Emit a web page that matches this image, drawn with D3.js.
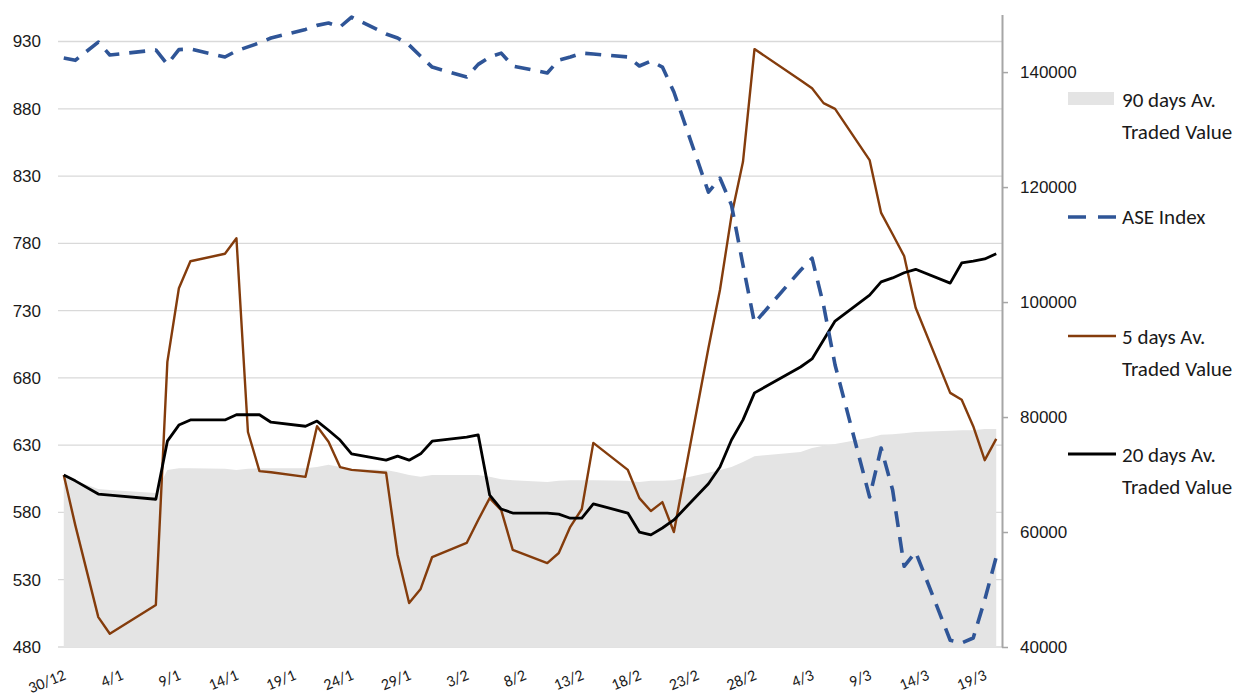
<!DOCTYPE html>
<html>
<head>
<meta charset="utf-8">
<script src="https://cdn.jsdelivr.net/npm/d3@7"></script>
<style>
  body { margin: 0; background: #fff; }
  svg { font-family: Carlito, Lato, "Open Sans", sans-serif; }
</style>
</head>
<body>
<div id="chart-area"></div>
<script>
// trading days, 30/12/2019 - 20/3/2020
var dates = ["2019-12-30","2019-12-31","2020-01-02","2020-01-03","2020-01-07","2020-01-08","2020-01-09","2020-01-10",
  "2020-01-13","2020-01-14","2020-01-15","2020-01-16","2020-01-17","2020-01-20","2020-01-21","2020-01-22","2020-01-23","2020-01-24",
  "2020-01-27","2020-01-28","2020-01-29","2020-01-30","2020-01-31","2020-02-03","2020-02-04","2020-02-05","2020-02-06","2020-02-07",
  "2020-02-10","2020-02-11","2020-02-12","2020-02-13","2020-02-14","2020-02-17","2020-02-18","2020-02-19","2020-02-20","2020-02-21",
  "2020-02-24","2020-02-25","2020-02-26","2020-02-27","2020-02-28","2020-03-03","2020-03-04","2020-03-05","2020-03-06",
  "2020-03-09","2020-03-10","2020-03-11","2020-03-12","2020-03-13","2020-03-16","2020-03-17","2020-03-18","2020-03-19","2020-03-20"];

var aseIndex = [917.7,916,929.6,920,923.7,913,924,924.4,
  918.5,923,926,929,932.6,939,942,943.7,940.8,948.2,
  935.6,932.6,927.4,919,911,903.6,913,918.5,921.4,911.8,
  906.6,916.2,918.5,921.4,920.7,918.5,911.8,915.5,911,892.5,
  818,828.5,808.5,763.9,720.8,760,769,734,689.6,
  591.5,627.9,596.7,540,550.6,485,483,486.7,515,547];

var av5 = [69900,61200,45200,42300,47300,89600,102400,107100,
  108400,111100,77400,70600,70400,69600,78400,75700,71300,70800,
  70300,56000,47650,50100,55650,58100,62100,65900,63800,56900,
  54600,56350,60900,64000,75500,70800,65900,63650,65200,60000,
  92000,102100,115000,124400,144000,138600,137200,134600,133600,
  124700,115500,111800,108000,99000,84200,83000,78400,72500,76200];

var av20 = [69900,68900,66600,66400,65700,75800,78600,79500,
  79500,80400,80400,80400,79100,78400,79300,77700,76000,73600,
  72500,73200,72500,73600,75800,76500,76900,66400,64000,63300,
  63300,63100,62400,62400,64900,63300,60000,59500,60700,62100,
  68400,71300,76000,79500,84200,88700,90100,93400,96700,
  101200,103500,104200,105100,105700,103300,106800,107100,107500,108400];

var av90 = [69600,68900,67500,67300,66800,70800,71100,71100,
  71000,70800,71000,71100,71100,71100,71300,71700,71300,71000,
  70800,70400,69900,69600,69900,69900,69900,69600,69200,69000,
  68700,68900,69000,69000,69000,68900,68700,68900,68900,69000,
  70300,70800,71300,72200,73200,73900,74600,75000,75300,
  76400,76900,77000,77200,77400,77600,77700,77700,77900,77900];

var xTickDates = ["2019-12-30","2020-01-04","2020-01-09","2020-01-14","2020-01-19","2020-01-24","2020-01-29",
  "2020-02-03","2020-02-08","2020-02-13","2020-02-18","2020-02-23","2020-02-28","2020-03-04","2020-03-09","2020-03-14","2020-03-19"];
var leftTicks = [480,530,580,630,680,730,780,830,880,930];
var rightTicks = [40000,60000,80000,100000,120000,140000];

var legendItems = [
  {key: "av90", lines: ["90 days Av.", "Traded Value"]},
  {key: "ase", lines: ["ASE Index"]},
  {key: "av5", lines: ["5 days Av.", "Traded Value"]},
  {key: "av20", lines: ["20 days Av.", "Traded Value"]}
];

var blue = "#2f5597", brown = "#843c0c", grid = "#d9d9d9", areaFill = "#e4e4e4";

var width = 1240, height = 697;
var plot = {left: 58, right: 1002, top: 14.6, bottom: 647};

var parse = d3.utcParse("%Y-%m-%d");
var days = dates.map(parse);

var svg = d3.select("#chart-area").append("svg")
    .attr("width", width)
    .attr("height", height);

var x = d3.scaleUtc()
    .domain([parse("2019-12-30"), parse("2020-03-21")])
    .range([plot.left, plot.right]);
// points sit in the middle of their day slot
function xc(d) { return x(d3.utcHour.offset(d, 12)); }

var yL = d3.scaleLinear().domain([480, 950]).range([plot.bottom, plot.top]);
var yR = d3.scaleLinear().domain([40000, 150000]).range([plot.bottom, plot.top]);

// gridlines
svg.append("g").selectAll("line")
    .data(leftTicks)
    .join("line")
    .attr("x1", plot.left).attr("x2", plot.right)
    .attr("y1", d => yL(d)).attr("y2", d => yL(d))
    .style("stroke", grid)
    .style("stroke-width", 1.3);

// 90 day area
var area = d3.area()
    .x((d, i) => xc(days[i]))
    .y0(yR(40000))
    .y1(d => yR(d));
svg.append("path")
    .datum(av90)
    .attr("d", area)
    .attr("fill", areaFill);

function lineFor(scale) {
  return d3.line().x((d, i) => xc(days[i])).y(d => scale(d));
}

svg.append("path").datum(av5)
    .attr("d", lineFor(yR))
    .attr("fill", "none")
    .style("stroke", brown)
    .style("stroke-width", 2.4)
    .style("stroke-linejoin", "round");

svg.append("path").datum(av20)
    .attr("d", lineFor(yR))
    .attr("fill", "none")
    .style("stroke", "#000")
    .style("stroke-width", 2.8)
    .style("stroke-linejoin", "round");

svg.append("path").datum(aseIndex)
    .attr("d", lineFor(yL))
    .attr("fill", "none")
    .style("stroke", blue)
    .style("stroke-width", 3.6)
    .style("stroke-dasharray", "16 10")
    .style("stroke-linejoin", "round");

// left axis (labels only)
var leftAxis = svg.append("g")
    .attr("transform", "translate(41,0)")
    .call(d3.axisLeft(yL).tickValues(leftTicks).tickSize(0).tickPadding(0));
leftAxis.select(".domain").remove();
leftAxis.selectAll("text")
    .style("font-size", "17px")
    .style("fill", "#1a1a1a");

// right axis
var rightAxis = svg.append("g")
    .attr("transform", "translate(" + plot.right + ",0)")
    .call(d3.axisRight(yR).tickValues(rightTicks).tickFormat(d3.format("d"))
      .tickSize(6).tickPadding(12).tickSizeOuter(0));
rightAxis.select(".domain").style("stroke", "#a6a6a6").style("stroke-width", 2);
rightAxis.selectAll(".tick line").style("stroke", "#a6a6a6").style("stroke-width", 1.5);
rightAxis.selectAll("text")
    .style("font-size", "17px")
    .style("fill", "#1a1a1a");

// x labels
var fmt = d3.utcFormat("%-d/%-m");
svg.append("g").selectAll("text")
    .data(xTickDates.map(parse))
    .join("text")
    .attr("transform", d => "translate(" + (xc(d) + 3) + ",679) rotate(-22)")
    .attr("text-anchor", "end")
    .style("font-size", "16px")
    .style("fill", "#1a1a1a")
    .text(d => fmt(d));

// legend
var legY = [100, 217, 337, 455];
var leg = svg.append("g").selectAll("g")
    .data(legendItems)
    .join("g")
    .attr("transform", (d, i) => "translate(1068," + legY[i] + ")");

leg.each(function(d) {
  var g = d3.select(this);
  if (d.key == "av90") {
    g.append("rect").attr("x", 0).attr("y", -8).attr("width", 46).attr("height", 13).attr("fill", areaFill);
  } else if (d.key == "ase") {
    g.append("line").attr("x1", 0).attr("x2", 48).attr("y1", 0).attr("y2", 0)
      .style("stroke", blue).style("stroke-width", 3.6).style("stroke-dasharray", "18 12");
  } else {
    g.append("line").attr("x1", 0).attr("x2", 48).attr("y1", -1).attr("y2", -1)
      .style("stroke", d.key == "av5" ? brown : "#000").style("stroke-width", d.key == "av5" ? 2.4 : 2.8);
  }
  g.selectAll("text")
    .data(d.lines)
    .join("text")
    .attr("x", 54)
    .attr("y", (t, j) => j * 32)
    .attr("dy", "0.35em")
    .style("font-size", "21px")
    .style("fill", "#1a1a1a")
    .text(t => t);
});
</script>
</body>
</html>
